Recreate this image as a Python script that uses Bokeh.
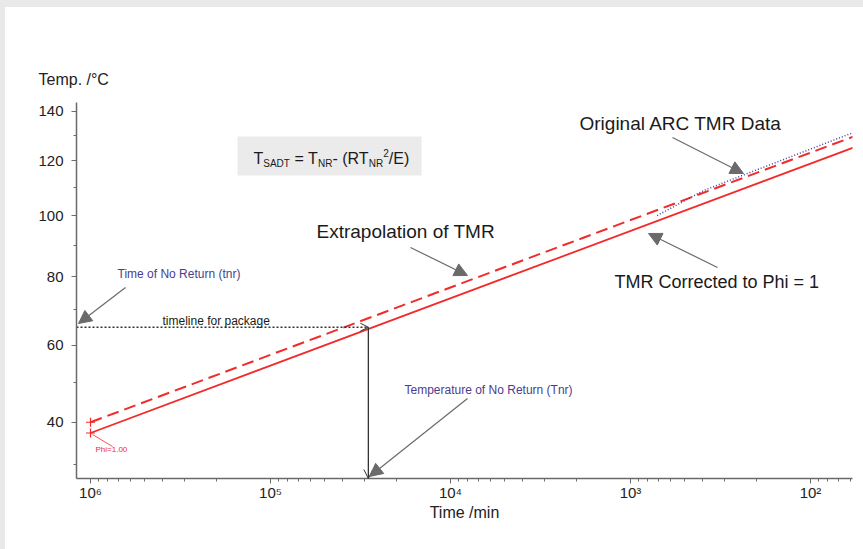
import math
from bokeh.plotting import figure
from bokeh.layouts import column, row
from bokeh.models import (Range1d, FixedTicker, CustomJSTickFormatter, Label, Arrow,
                          NormalHead, OpenHead, BoxAnnotation, ColumnDataSource, Spacer)
from bokeh.embed import file_html
from bokeh.resources import INLINE

# ---------------- data ----------------
corrected_time = [1.0e6, 50.0]          # TMR corrected to Phi = 1
corrected_temp = [37.4, 126.8]
extrap_time = [1.0e6, 50.0]             # extrapolation of TMR
extrap_temp = [40.0, 131.2]
arc_time = [711.0, 392.0, 267.0, 58.5]  # original ARC TMR data
arc_temp = [100.0, 108.9, 113.2, 131.0]
phi_time = [1.0e6, 1.0e6]
phi_temp = [40.0, 37.4]
tnr_time = 2.86e4                        # time of no return
tnr_temp = 65.0                          # temperature of no return
y_major = [40, 60, 80, 100, 120, 140]
y_minor = [30, 50, 70, 90, 110, 130]
x_major = [1e2, 1e3, 1e4, 1e5, 1e6]
x_minor = [m * 10 ** e for e in range(1, 7) for m in range(2, 10)]

RED = "#f22a2a"
GRAY = "#6a6a6a"
PURPLE = "#4a3d8f"
BAND = "#e9e9e9"
FONT = "Liberation Sans"


def Y(t):
    return -1000.0 / (t + 273.15)


# pixel helpers for annotation placement (page pixels)
def tx(px):
    return 10 ** (6 - (px - 90) / 180.0)


def vy(py):
    return Y(140) - (py - 110.7) / 402.4


p = figure(width=858, height=542, x_axis_type="log",
           x_range=Range1d(tx(76), tx(852)), y_range=Range1d(vy(478), vy(102)),
           output_backend="svg", toolbar_location=None,
           min_border_left=71, min_border_right=11, min_border_top=95, min_border_bottom=71)
p.grid.visible = False
p.outline_line_color = None
p.background_fill_color = "white"

p.title.text = "Temp. /\u00b0C"
p.title.align = "left"
p.title.offset = -38
p.title.standoff = 30
p.title.text_font = FONT
p.title.text_font_size = "16px"
p.title.text_font_style = "normal"
p.title.text_color = "#222222"

for ax in (p.xaxis, p.yaxis):
    ax.axis_line_color = GRAY
    ax.axis_line_width = 1.5
    ax.major_tick_line_color = GRAY
    ax.minor_tick_line_color = GRAY
    ax.major_tick_in = 0
    ax.major_tick_out = 5
    ax.minor_tick_in = 0
    ax.minor_tick_out = 3
    ax.major_label_text_font = FONT
    ax.major_label_text_font_size = "15px"
    ax.major_label_text_color = "#222222"

p.xaxis.major_label_standoff = 0
p.yaxis.major_label_standoff = 8

p.xaxis.ticker = FixedTicker(ticks=x_major, minor_ticks=x_minor)
p.xaxis.formatter = CustomJSTickFormatter(
    code="const s='\u2070\u00b9\u00b2\u00b3\u2074\u2075\u2076\u2077\u2078\u2079';"
         "const e=Math.round(Math.log10(tick)); return '10'+s[e];")
p.xaxis.axis_label = "Time /min"
p.xaxis.axis_label_text_font = FONT
p.xaxis.axis_label_text_font_size = "16px"
p.xaxis.axis_label_text_font_style = "normal"
p.xaxis.axis_label_text_color = "#222222"
p.xaxis.axis_label_standoff = 0

p.yaxis.ticker = FixedTicker(ticks=[Y(t) for t in y_major], minor_ticks=[Y(t) for t in y_minor])
p.yaxis.formatter = CustomJSTickFormatter(code="return Math.round(-1000/tick - 273.15).toString();")

# formula box
p.add_layout(BoxAnnotation(left=tx(237), right=tx(421), top=vy(136), bottom=vy(175),
                           fill_color="#ebebeb", fill_alpha=1.0, line_color=None, level="underlay"))

# lines
src_c = ColumnDataSource(dict(t=corrected_time, v=[Y(t) for t in corrected_temp]))
src_e = ColumnDataSource(dict(t=extrap_time, v=[Y(t) for t in extrap_temp]))
src_a = ColumnDataSource(dict(t=arc_time, v=[Y(t) for t in arc_temp]))
p.line("t", "v", source=src_c, line_color=RED, line_width=1.8)
p.line("t", "v", source=src_e, line_color=RED, line_width=2, line_dash="12 6")
p.line("t", "v", source=src_a, line_color="#4040a0", line_width=1.5, line_dash="1 2")
p.scatter(phi_time, [Y(t) for t in phi_temp], marker="cross", size=9,
          line_color=RED, line_width=1.2)

# time of no return lines
p.line([tx(76), tnr_time], [Y(tnr_temp), Y(tnr_temp)], line_color="#333333",
       line_width=1.4, line_dash="2 2")
p.add_layout(Arrow(x_start=tnr_time, y_start=Y(tnr_temp), x_end=tnr_time, y_end=vy(478),
                   line_color="#333333", line_width=1.3,
                   end=OpenHead(size=9, line_color="#333333", line_width=1.0)))
p.add_layout(Arrow(x_start=tx(345), y_start=Y(tnr_temp), x_end=tnr_time, y_end=Y(tnr_temp),
                   line_alpha=0.0,
                   end=OpenHead(size=8, line_color="#333333", line_width=1.0)))

# phi marker connector
p.add_layout(Arrow(x_start=tx(92), y_start=vy(434), x_end=tx(112), y_end=vy(446),
                   line_color=RED, line_width=0.8, end=None))


def label(px, py, text, size, color="#1a1a1a"):
    p.add_layout(Label(x=tx(px), y=vy(py), text=text, text_font=FONT,
                       text_font_size=f"{size}px", text_color=color,
                       text_baseline="middle", text_align="left"))


def garrow(x0, y0, x1, y1):
    p.add_layout(Arrow(x_start=tx(x0), y_start=vy(y0), x_end=tx(x1), y_end=vy(y1),
                       line_color=GRAY, line_width=1.2,
                       end=NormalHead(size=13, fill_color=GRAY, line_color=GRAY)))


label(117, 273, "Time of No Return (tnr)", 12, PURPLE)
garrow(125, 287, 78, 323)
label(162, 320, "timeline for package", 12)
label(95, 449, "Phi=1.00", 8, RED)
label(404, 389, "Temperature of No Return (Tnr)", 12, PURPLE)
garrow(467, 398, 369, 476)
label(316, 231, "Extrapolation of TMR", 19)
garrow(410, 247, 467, 275)
label(579, 123, "Original ARC TMR Data", 19)
garrow(672, 137, 743, 173)
label(614, 281, "TMR Corrected to Phi = 1", 18)
garrow(717, 267, 648, 233)

# formula with sub/superscripts
W = {"T": 611, "S": 667, "A": 667, "D": 722, " ": 278, "=": 584, "N": 722, "R": 722,
     "-": 333, "(": 333, ")": 333, "2": 556, "/": 278, "E": 667}
segments = [("T", 16, 158), ("SADT", 10, 163), (" = T", 16, 158), ("NR", 10, 163),
            ("- (RT", 16, 158), ("NR", 10, 163), ("2", 10, 152), ("/E)", 16, 158)]
xpos = 253.0
for txt, sz, yc in segments:
    lead = len(txt) - len(txt.lstrip(" "))
    xpos += lead * W[" "] * sz / 1000.0
    core = txt.strip(" ")
    label(xpos, yc, core, sz)
    xpos += sum(W[c] for c in core) * sz / 1000.0
    xpos += (len(txt.rstrip(" ")) != len(txt)) * W[" "] * sz / 1000.0

top_band = Spacer(width=863, height=7, styles={"background-color": BAND})
left_band = Spacer(width=5, height=542, styles={"background-color": BAND})
layout = column(top_band, row(left_band, p, spacing=0), spacing=0)

open("out.html", "w").write(file_html(layout, INLINE))
